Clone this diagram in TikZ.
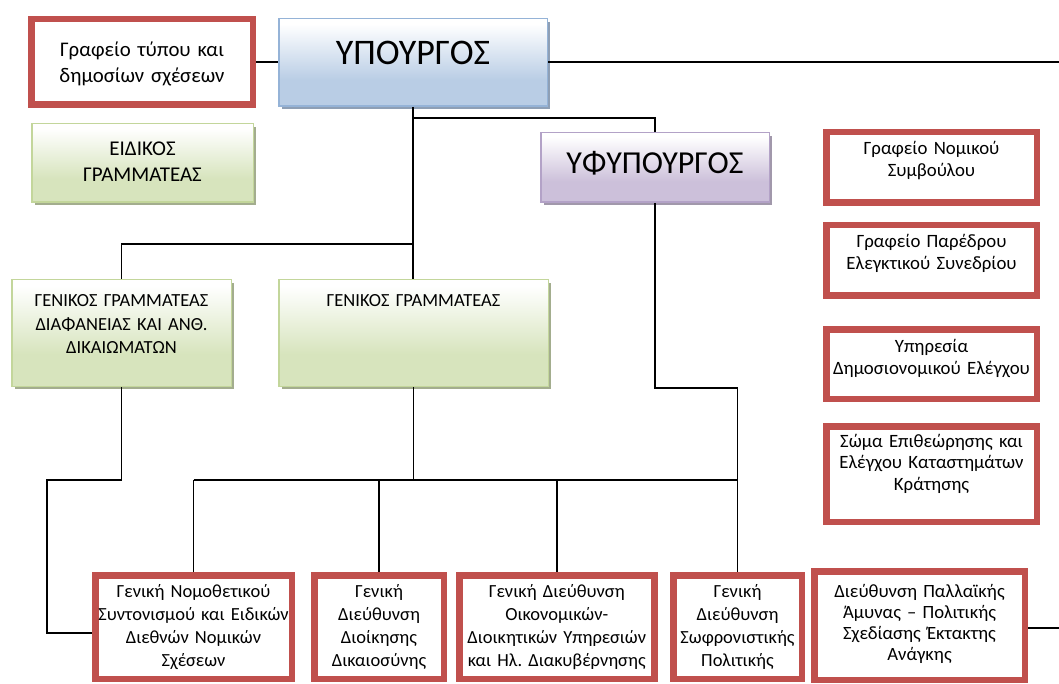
\documentclass[tikz,border=0pt]{standalone}
\usepackage{fontspec}
\setmainfont{Carlito}
\usetikzlibrary{shadows}
\newcommand\fsz[2]{\fontsize{#1}{#2}\selectfont}
\definecolor{redc}{HTML}{C0504D}
\definecolor{blueb}{HTML}{95B3D7}
\definecolor{bluef}{HTML}{B9CDE5}
\definecolor{blues}{HTML}{8E9FB5}
\definecolor{greenb}{HTML}{C3D69B}
\definecolor{greenf}{HTML}{D7E4BD}
\definecolor{greens}{HTML}{A3AD8E}
\definecolor{purpb}{HTML}{B3A2C7}
\definecolor{purpf}{HTML}{CCC0DA}
\definecolor{purps}{HTML}{A198AB}
\pgfdeclareverticalshading{bluegrad}{100bp}{color(0bp)=(bluef); color(25bp)=(bluef); color(40bp)=(bluef); color(72bp)=(white); color(100bp)=(white)}
\pgfdeclareverticalshading{greengrad}{100bp}{color(0bp)=(greenf); color(25bp)=(greenf); color(40bp)=(greenf); color(72bp)=(white); color(100bp)=(white)}
\pgfdeclareverticalshading{purpgrad}{100bp}{color(0bp)=(purpf); color(25bp)=(purpf); color(40bp)=(purpf); color(72bp)=(white); color(100bp)=(white)}
\frenchspacing
\begin{document}
\begin{tikzpicture}[x=1pt,y=-1pt,
  redbox/.style={draw=redc, line width=6.5pt, fill=white, inner sep=0pt},
  gbox/.style={line width=1.5pt, inner sep=0pt},
  bluebox/.style={gbox, draw=blueb, shading=bluegrad, drop shadow={shadow xshift=3pt, shadow yshift=-3pt, fill=blues, opacity=1}},
  greenbox/.style={gbox, draw=greenb, shading=greengrad, drop shadow={shadow xshift=3pt, shadow yshift=-3pt, fill=greens, opacity=1}},
  purpbox/.style={gbox, draw=purpb, shading=purpgrad, drop shadow={shadow xshift=3pt, shadow yshift=-3pt, fill=purps, opacity=1}},
  txt/.style={inner sep=0pt, anchor=base, text width=250pt, align=center},
  conn/.style={draw=black, line width=1.8pt}
]
\useasboundingbox (0,0) rectangle (1059,684);

% boxes
\node[redbox, minimum width=221.5pt, minimum height=85.5pt] (R1) at (142,62) {};
\node[bluebox, minimum width=268.5pt, minimum height=87.5pt] (U) at (413,62.5) {};
\node[greenbox, minimum width=221.5pt, minimum height=78.5pt] (E) at (142.5,163) {};
\node[purpbox, minimum width=228.5pt, minimum height=69.5pt] (Y) at (655,167.5) {};
\node[greenbox, minimum width=219.5pt, minimum height=106.5pt] (G1) at (121.5,333) {};
\node[greenbox, minimum width=269.5pt, minimum height=106.5pt] (G2) at (413.5,333) {};
\node[redbox, minimum width=210.5pt, minimum height=70.5pt] (N1) at (931.5,167.5) {};
\node[redbox, minimum width=210.5pt, minimum height=70.5pt] (N2) at (931.5,260.5) {};
\node[redbox, minimum width=210.5pt, minimum height=69.5pt] (N3) at (931.5,364) {};
\node[redbox, minimum width=210.5pt, minimum height=95.5pt] (N4) at (931.5,474) {};
\node[redbox, minimum width=196.5pt, minimum height=103.5pt] (B1) at (193.5,627) {};
\node[redbox, minimum width=129.5pt, minimum height=103.5pt] (B2) at (379,627) {};
\node[redbox, minimum width=195pt, minimum height=103.5pt] (B3) at (556.75,627) {};
\node[redbox, minimum width=128.5pt, minimum height=103.5pt] (B4) at (737.5,627) {};
\node[redbox, minimum width=210.5pt, minimum height=108.5pt] (B5) at (919.5,625.5) {};

% texts
\node[txt, font=\fsz{20.8}{26}] (R1t) at (142,57) {Γραφείο τύπου και\\δημοσίων σχέσεων};
\node[inner sep=0pt, anchor=base, font=\fsz{36}{40}] (Ut) at (413,65) {ΥΠΟΥΡΓΟΣ};
\node[txt, font=\fsz{21}{26}] (Et) at (142.5,156) {ΕΙΔΙΚΟΣ\\ΓΡΑΜΜΑΤΕΑΣ};
\node[inner sep=0pt, anchor=base, font=\fsz{32}{36}] (Yt) at (655,174) {ΥΦΥΠΟΥΡΓΟΣ};
\node[txt, font=\fsz{18.5}{23.5}] (G1t) at (121.5,307) {ΓΕΝΙΚΟΣ ΓΡΑΜΜΑΤΕΑΣ\\ΔΙΑΦΑΝΕΙΑΣ ΚΑΙ ΑΝΘ.\\ΔΙΚΑΙΩΜΑΤΩΝ};
\node[txt, font=\fsz{18.5}{23.5}] (G2t) at (413.5,307) {ΓΕΝΙΚΟΣ ΓΡΑΜΜΑΤΕΑΣ};
\node[txt, font=\fsz{18.8}{22}] (N1t) at (931.5,155) {Γραφείο Νομικού\\Συμβούλου};
\node[txt, font=\fsz{18.8}{22}] (N2t) at (931.5,248) {Γραφείο Παρέδρου\\Ελεγκτικού Συνεδρίου};
\node[txt, font=\fsz{18.8}{22}] (N3t) at (931.5,352) {Υπηρεσία\\Δημοσιονομικού Ελέγχου};
\node[txt, font=\fsz{18.8}{21.5}] (N4t) at (931.5,447) {Σώμα Επιθεώρησης και\\Ελέγχου Καταστημάτων\\Κράτησης};
\node[txt, font=\fsz{18.5}{23}] (B1t) at (193.5,597) {Γενική Νομοθετικού\\Συντονισμού και Ειδικών\\Διεθνών Νομικών\\Σχέσεων};
\node[txt, font=\fsz{18.5}{23}] (B2t) at (379,597) {Γενική\\Διεύθυνση\\Διοίκησης\\Δικαιοσύνης};
\node[txt, font=\fsz{18.5}{23}] (B3t) at (556.75,597) {Γενική Διεύθυνση\\Οικονομικών-\\Διοικητικών Υπηρεσιών\\και Ηλ. Διακυβέρνησης};
\node[txt, font=\fsz{18.5}{23}] (B4t) at (737.5,597) {Γενική\\Διεύθυνση\\Σωφρονιστικής\\Πολιτικής};
\node[txt, font=\fsz{18.7}{21}] (B5t) at (919.5,597) {Διεύθυνση Παλλαϊκής\\Άμυνας – Πολιτικής\\Σχεδίασης Έκτακτης\\Ανάγκης};

% connector junctions
\coordinate (rendU) at (1059,62);
\coordinate (rendB) at (1059,628);
\coordinate (j0) at (413,118);
\coordinate (j1) at (413,244);
\coordinate (k1) at (47,480);
\coordinate (k2) at (47,633);
\coordinate (bus) at (413,480);
\coordinate (bl) at (193.5,480);
\coordinate (y1) at (656,388);

% connectors
\draw[conn] (R1.east) -- (R1.east -| U.west);
\draw[conn] (U.east |- rendU) -- (rendU);
\draw[conn] (U.south) -- (U.south |- G2.north);
\draw[conn] (j0) -| (Y.north);
\draw[conn] (j1) -| (G1.north);
\draw[conn] (G1.south) |- (k1) -- (k2) -- (k2 -| B1.west);
\draw[conn] (G2.south) -- (G2.south |- bus);
\draw[conn] (bl) -- (bl -| B4.north);
\draw[conn] (bl) -- (B1.north);
\draw[conn] (B2.north |- bus) -- (B2.north);
\draw[conn] (B3.north |- bus) -- (B3.north);
\draw[conn] (Y.south) -- (Y.south |- y1) -| (B4.north);
\draw[conn] (B5.east |- rendB) -- (rendB);
\end{tikzpicture}
\end{document}
